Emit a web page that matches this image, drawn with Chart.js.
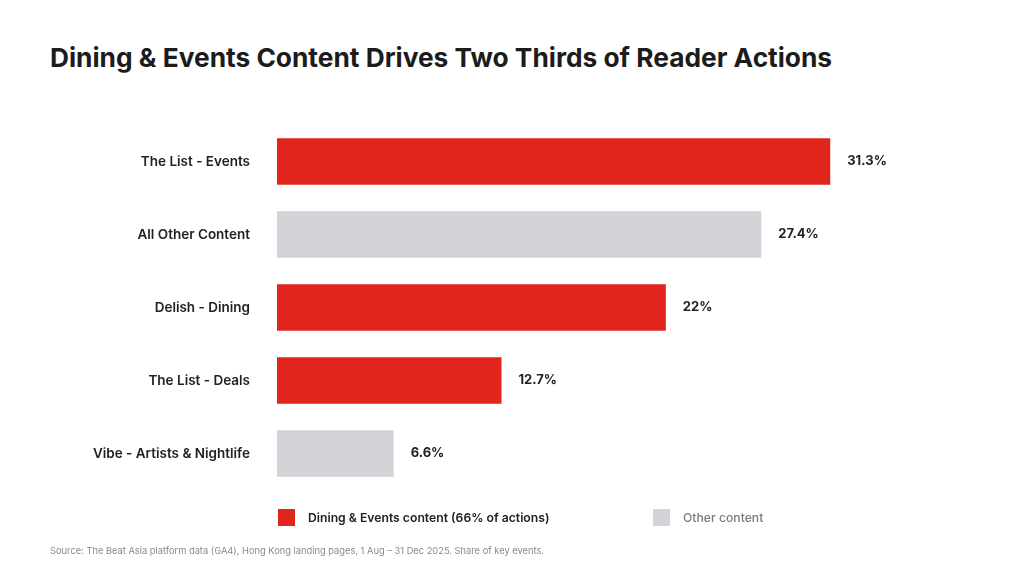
<!DOCTYPE html>
<html>
<head>
<meta charset="utf-8">
<script src="https://cdn.jsdelivr.net/npm/chart.js@4"></script>
<style>
	body { margin: 0; background: #fff; font-family: Inter, 'Noto Sans', sans-serif; }
	.wrap { position: relative; width: 1024px; height: 576px; overflow: hidden; }
	h1 { position: absolute; left: 50px; top: 42px; margin: 0; font-size: 26.3px; font-weight: 700; color: #1c1c1c; }
	canvas { position: absolute; left: 0; top: 0; }
	.legend { position: absolute; top: 509px; font-size: 12.2px; display: flex; align-items: center; }
	.legend span.box { width: 17px; height: 17px; display: inline-block; margin-right: 13px; }
	.source { position: absolute; left: 50px; top: 545px; font-size: 9.3px; color: #8a8a8a; }
</style>
</head>
<body>
<div class="wrap">
	<h1>Dining &amp; Events Content Drives Two Thirds of Reader Actions</h1>
	<canvas id="chart" width="1024" height="576"></canvas>
	<div class="legend" style="left: 278px; color: #222; font-weight: 600;"><span class="box" style="background: #e0251c;"></span>Dining &amp; Events content (66% of actions)</div>
	<div class="legend" style="left: 653px; color: #7a7a7a; font-weight: 500;"><span class="box" style="background: #d3d3d8;"></span>Other content</div>
	<div class="source">Source: The Beat Asia platform data (GA4), Hong Kong landing pages, 1 Aug – 31 Dec 2025. Share of key events.</div>
</div>
<script>
const categories = ['The List - Events', 'All Other Content', 'Delish - Dining', 'The List - Deals', 'Vibe - Artists & Nightlife'];
const shares = [31.3, 27.4, 22, 12.7, 6.6];
const groups = ['dining', 'other', 'dining', 'dining', 'other'];

const colorFor = { dining: '#e0251c', other: '#d3d3d8' };

// draws the value next to the end of each bar
const valueLabels = {
	id: 'valueLabels',
	afterDatasetsDraw(chart) {
		const ctx = chart.ctx;
		const meta = chart.getDatasetMeta(0);
		ctx.save();
		ctx.font = '700 13px Inter, sans-serif';
		ctx.fillStyle = '#222';
		ctx.textBaseline = 'middle';
		meta.data.forEach((bar, i) => {
			ctx.fillText(shares[i] + '%', bar.x + 17, bar.y);
		});
		ctx.restore();
	},
};

const ctx = document.getElementById('chart').getContext('2d');
new Chart(ctx, {
	type: 'bar',
	data: {
		labels: categories,
		datasets: [{
			data: shares,
			backgroundColor: groups.map((g) => colorFor[g]),
			barPercentage: 0.8,
			categoryPercentage: 0.8,
		}],
	},
	options: {
		indexAxis: 'y',
		responsive: false,
		animation: false,
		layout: {
			padding: { top: 125, bottom: 86, left: 0, right: 40 },
		},
		plugins: {
			legend: { display: false },
			tooltip: { enabled: false },
		},
		scales: {
			x: {
				display: false,
				min: 0,
				max: 40,
			},
			y: {
				grid: { display: false },
				border: { display: false },
				ticks: {
					color: '#222',
					padding: 19,
					font: { family: 'Inter', size: 13.5, weight: '600' },
				},
				afterFit(scale) {
					scale.width = 277;
				},
			},
		},
	},
	plugins: [valueLabels],
});
</script>
</body>
</html>
